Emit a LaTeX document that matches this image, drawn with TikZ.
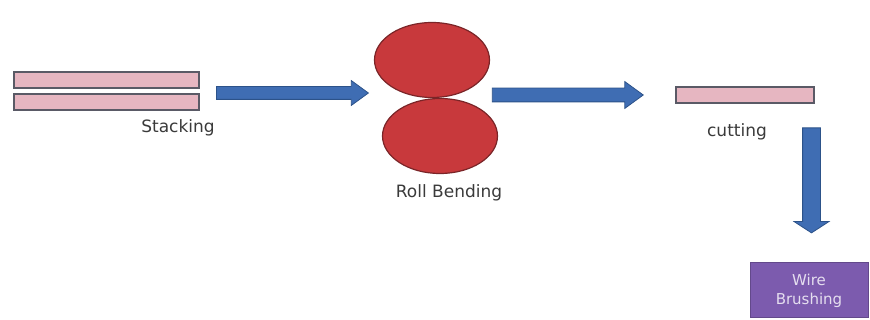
\documentclass[tikz,border=0pt]{standalone}
\usepackage{fontspec}
\setmainfont{DejaVu Sans}
\usetikzlibrary{shapes.geometric,shapes.arrows}
\definecolor{pinkfill}{HTML}{E6B6C1}
\definecolor{barline}{HTML}{5A5A66}
\definecolor{rollfill}{HTML}{C8393C}
\definecolor{rollline}{HTML}{7A2528}
\definecolor{arrowfill}{HTML}{3F6DB3}
\definecolor{arrowline}{HTML}{2C5289}
\definecolor{boxfill}{HTML}{7C5BAE}
\definecolor{labelgray}{HTML}{3A3A3A}
\tikzset{
  bar/.style={draw=barline, line width=1.2pt, fill=pinkfill, inner sep=0pt, minimum height=16pt},
  roll/.style={ellipse, draw=rollline, line width=1.2pt, fill=rollfill, inner sep=0pt, minimum width=115pt, minimum height=75pt},
  flow/.style={single arrow, draw=arrowline, line width=0.8pt, fill=arrowfill, inner xsep=0pt, inner ysep=6pt, minimum height=152pt, single arrow head extend=6pt, single arrow head indent=0pt, single arrow tip angle=72},
  lbl/.style={text=labelgray, font=\fontsize{17}{19}\selectfont, inner sep=0pt},
  brush/.style={draw=boxfill!80!black, line width=1pt, fill=boxfill, text=white!80!boxfill, font=\fontsize{15}{19}\selectfont, align=center, inner sep=0pt, minimum width=118pt, minimum height=55pt}
}
\begin{document}
\begin{tikzpicture}[x=1pt,y=-1pt]
\useasboundingbox (0,0) rectangle (870,320);
% stacking
\node[bar, minimum width=185pt] (s1) at (106.5,80) {};
\node[bar, minimum width=185pt] (s2) at (106.5,102) {};
\node[lbl] (stack) at (178,128) {Stacking};
% arrow 1
\node[flow] (a1) at (288,93) {};
% rolls
\node[roll] (r1) at (432,60) {};
\node[roll] (r2) at (440,136) {};
\node[lbl] (roll) at (449,193) {Roll Bending};
% arrow 2
\node[flow, minimum height=151pt, inner ysep=6.5pt, single arrow head extend=6.5pt] (a2) at (563,95) {};
% cutting
\node[bar, minimum width=138pt] (c1) at (745,95) {};
\node[lbl] (cut) at (737,132) {cutting};
% down arrow
\node[flow, rotate=-90, minimum height=105pt, inner ysep=8.5pt, single arrow head extend=8.5pt, single arrow tip angle=114] (a3) at (811.5,177.5) {};
% wire brushing
\node[brush] (wb) at (809,290.5) {Wire\\Brushing};
\end{tikzpicture}
\end{document}
